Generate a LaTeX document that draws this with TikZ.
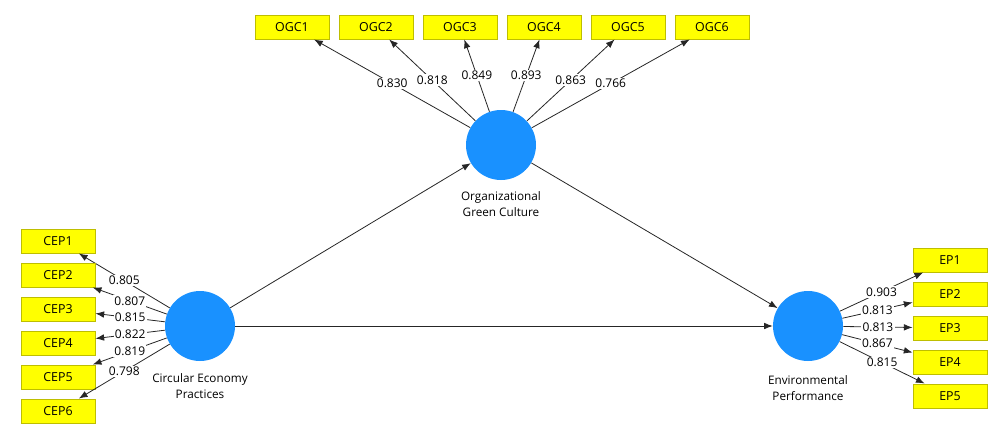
\documentclass[tikz,border=0pt]{standalone}
\usepackage{fontspec}
\setmainfont{Open Sans}
\usetikzlibrary{arrows.meta}
\definecolor{latentblue}{RGB}{25,145,255}
\definecolor{itemyellow}{RGB}{255,255,0}
\definecolor{itemborder}{RGB}{190,190,0}
\tikzset{
  latent/.style={circle,fill=latentblue,minimum size=52.5pt,inner sep=0pt},
  item/.style={draw=itemborder,line width=0.75pt,fill=itemyellow,minimum width=55.5pt,
    minimum height=18pt,inner sep=0pt,font=\fontsize{9.3}{10}\selectfont},
  load/.style={fill=white,inner sep=1pt,font=\fontsize{9}{10}\selectfont},
  caption/.style={align=center,font=\fontsize{8.8}{11.5}\selectfont},
  relation/.style={draw=black!85,line width=0.6pt,-{Latex[length=6.5pt,width=5pt]}}
}
\begin{document}
\begin{tikzpicture}[x=0.75pt,y=-0.75pt]
\useasboundingbox (0,0) rectangle (993,429);
% latent variables
\node[latent] (ogc) at (501,145) {};
\node[latent] (cep) at (200,326) {};
\node[latent] (ep) at (808,326) {};
\node[caption] (ogccap) at (501,204) {Organizational\\Green Culture};
\node[caption] (cepcap) at (200,386) {Circular Economy\\Practices};
\node[caption] (epcap) at (808,388) {Environmental\\Performance};
% structural paths
\draw[relation] (cep) -- (ogc);
\draw[relation] (cep) -- (ep);
\draw[relation] (ogc) -- (ep);
% outer loadings
\foreach \i/\x/\v in {1/292/0.830,2/376/0.818,3/460/0.849,4/544/0.893,5/628/0.863,6/712/0.766}{
  \node[item] (ogc\i) at (\x,27) {OGC\i};
  \draw[relation] (ogc) -- node[load] {\v} (ogc\i);
}
\foreach \i/\y/\v in {1/241/0.805,2/275/0.807,3/309/0.815,4/343/0.822,5/377/0.819,6/411/0.798}{
  \node[item] (cep\i) at (58,\y) {CEP\i};
  \draw[relation] (cep) -- node[load] {\v} (cep\i);
}
\foreach \i/\y/\v in {1/260/0.903,2/294/0.813,3/328/0.813,4/362/0.867,5/396/0.815}{
  \node[item] (ep\i) at (950,\y) {EP\i};
  \draw[relation] (ep) -- node[load] {\v} (ep\i);
}
\end{tikzpicture}
\end{document}
